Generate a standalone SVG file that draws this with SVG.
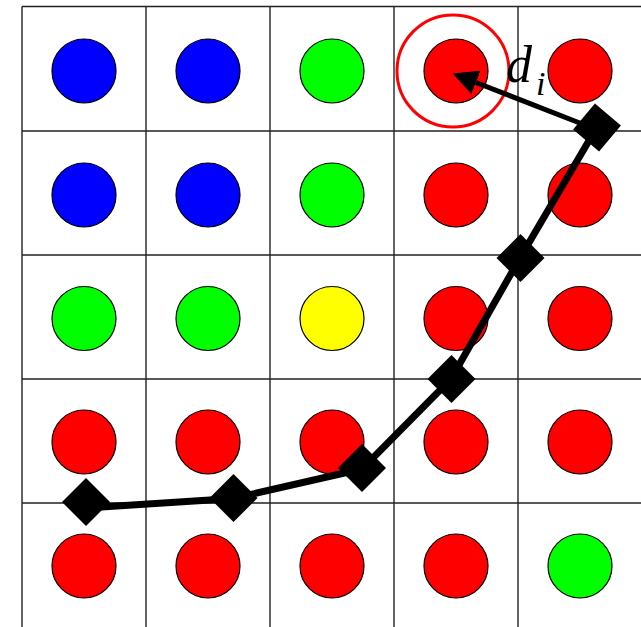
<svg xmlns="http://www.w3.org/2000/svg" xmlns:xlink="http://www.w3.org/1999/xlink" width="641" height="627" viewBox="0 0 641 627">
<style>
.grid{stroke:#222;stroke-width:1.4;fill:none}
.dot{stroke:#000;stroke-width:1.2}
.b{fill:#0000ff}.g{fill:#00ff00}.r{fill:#ff0000}.y{fill:#ffff00}
.path{stroke:#000;stroke-width:7;fill:none;stroke-linejoin:round}
.dia{fill:#000}
.arrow{stroke:#000;stroke-width:5;fill:none}
.ring{stroke:#ff0000;stroke-width:3;fill:none}
.lbl{font-family:"Liberation Serif","Times New Roman",serif;font-style:italic;fill:#000}
</style>
<defs>
<path id="dia" d="M0,-24 L24,0 L0,24 L-24,0 Z"/>
<marker id="ah" markerUnits="userSpaceOnUse" markerWidth="26" markerHeight="26" viewBox="0 0 26 26" refX="0" refY="13" orient="auto">
<path d="M0,0.5 L25,13 L0,25.5 Z" fill="#000"/>
</marker>
</defs>
<rect width="641" height="627" fill="#fff"/>
<g id="grid" class="grid">
<path d="M22,6.5V627M146,6.5V627M270,6.5V627M394,6.5V627M518,6.5V627"/>
<path d="M22,6.5H641M22,131H641M22,255H641M22,379H641M22,503H641"/>
</g>
<g id="dots" class="dot">
<circle id="c00" class="b" cx="84" cy="71" r="32"/>
<circle id="c01" class="b" cx="208" cy="71" r="32"/>
<circle id="c02" class="g" cx="332" cy="71" r="32"/>
<circle id="c03" class="r" cx="456" cy="71" r="32"/>
<circle id="c04" class="r" cx="580" cy="71" r="32"/>
<circle id="c10" class="b" cx="84" cy="195" r="32"/>
<circle id="c11" class="b" cx="208" cy="195" r="32"/>
<circle id="c12" class="g" cx="332" cy="195" r="32"/>
<circle id="c13" class="r" cx="456" cy="195" r="32"/>
<circle id="c14" class="r" cx="580" cy="195" r="32"/>
<circle id="c20" class="g" cx="84" cy="318.5" r="32"/>
<circle id="c21" class="g" cx="208" cy="318.5" r="32"/>
<circle id="c22" class="y" cx="332" cy="318.5" r="32"/>
<circle id="c23" class="r" cx="456" cy="318.5" r="32"/>
<circle id="c24" class="r" cx="580" cy="318.5" r="32"/>
<circle id="c30" class="r" cx="84" cy="442" r="32"/>
<circle id="c31" class="r" cx="208" cy="442" r="32"/>
<circle id="c32" class="r" cx="332" cy="442" r="32"/>
<circle id="c33" class="r" cx="456" cy="442" r="32"/>
<circle id="c34" class="r" cx="580" cy="442" r="32"/>
<circle id="c40" class="r" cx="84" cy="566" r="32"/>
<circle id="c41" class="r" cx="208" cy="566" r="32"/>
<circle id="c42" class="r" cx="332" cy="566" r="32"/>
<circle id="c43" class="r" cx="456" cy="566" r="32"/>
<circle id="c44" class="g" cx="580" cy="566" r="32"/>
</g>
<g id="ring"><circle class="ring" cx="453" cy="71" r="56"/></g>
<g id="connectors">
<path class="path" d="M86,508 L233,498.5 L362,469 L451,379 L520,258 L597,127"/>
<path class="arrow" d="M590,127 L476,82.5" marker-end="url(#ah)"/>
</g>
<g id="p1" class="dia"><use xlink:href="#dia" x="86" y="502"/></g>
<g id="p2" class="dia"><use xlink:href="#dia" x="233.5" y="498"/></g>
<g id="p3" class="dia"><use xlink:href="#dia" x="362" y="468"/></g>
<g id="p4" class="dia"><use xlink:href="#dia" x="451.5" y="379"/></g>
<g id="p5" class="dia"><use xlink:href="#dia" x="520.5" y="258"/></g>
<g id="p6" class="dia"><use xlink:href="#dia" x="597" y="127.5" transform="rotate(-5 597 127.5)"/></g>
<g id="label">
<text class="lbl" x="506" y="82" font-size="52">d</text>
<text class="lbl" x="536" y="95" font-size="34">i</text>
</g>
</svg>
